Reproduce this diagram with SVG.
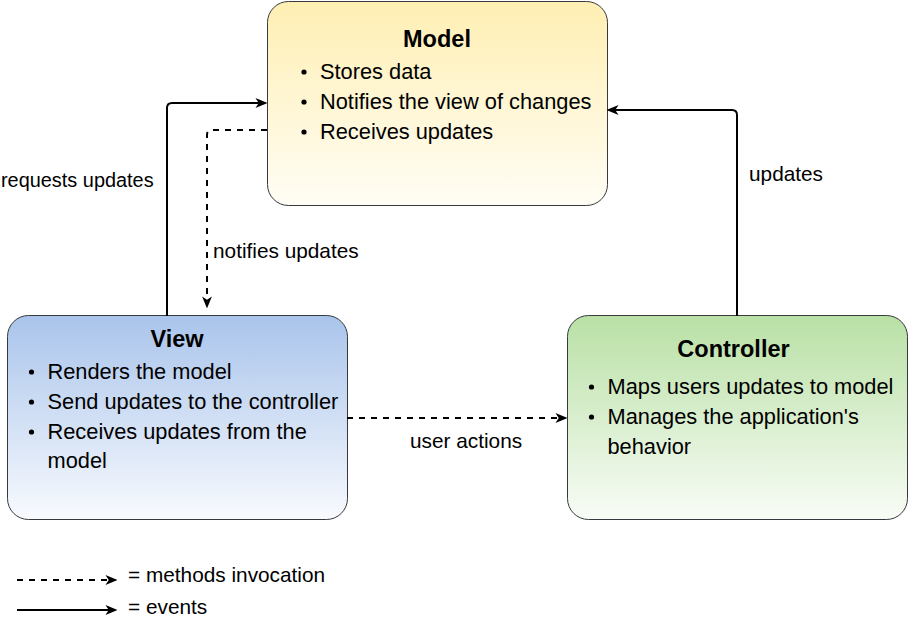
<svg xmlns="http://www.w3.org/2000/svg" width="909" height="633" viewBox="0 0 909 633">
<style>
  .box { stroke: #36393d; stroke-width: 1; }
  .title { font-family: "Liberation Sans", Arial, Helvetica, sans-serif; font-weight: bold; font-size: 23.5px; fill: #000; text-anchor: middle; }
  .item { font-family: "Liberation Sans", Arial, Helvetica, sans-serif; font-size: 21.8px; fill: #000; }
  .lbl { font-family: "Liberation Sans", Arial, Helvetica, sans-serif; font-size: 20.8px; fill: #000; }
  .dot { fill: #000; }
  .edge { fill: none; stroke: #000; stroke-width: 2; }
  .dash { stroke-dasharray: 6 6; }
</style>
<defs>
  <linearGradient id="gModel" x1="0" y1="0" x2="0" y2="1">
    <stop offset="0" stop-color="#FFEFB3"/>
    <stop offset="1" stop-color="#FFFDF5"/>
  </linearGradient>
  <linearGradient id="gView" x1="0" y1="0" x2="0" y2="1">
    <stop offset="0" stop-color="#A9C4EB"/>
    <stop offset="1" stop-color="#F8FAFE"/>
  </linearGradient>
  <linearGradient id="gCtrl" x1="0" y1="0" x2="0" y2="1">
    <stop offset="0" stop-color="#B9E0A5"/>
    <stop offset="1" stop-color="#F8FCF6"/>
  </linearGradient>
  <marker id="arr" markerUnits="userSpaceOnUse" markerWidth="12" markerHeight="10" viewBox="0 0 11 9" refX="6" refY="4.5" orient="auto">
    <path d="M0,0 L11,4.5 L0,9 L3,4.5 Z" fill="#000"/>
  </marker>
</defs>

<g id="model">
  <rect class="box" x="267.5" y="1.5" width="340" height="204" rx="21" ry="21" fill="url(#gModel)"/>
  <text class="title" x="437" y="47">Model</text>
  <circle class="dot" cx="304" cy="72" r="2.6"/>
  <text class="item" x="320" y="79">Stores data</text>
  <circle class="dot" cx="304" cy="102" r="2.6"/>
  <text class="item" x="320" y="109">Notifies the view of changes</text>
  <circle class="dot" cx="304" cy="132" r="2.6"/>
  <text class="item" x="320" y="139">Receives updates</text>
</g>

<g id="view">
  <rect class="box" x="7.5" y="315.5" width="340" height="204" rx="21" ry="21" fill="url(#gView)"/>
  <text class="title" x="177" y="347">View</text>
  <circle class="dot" cx="31.5" cy="372" r="2.6"/>
  <text class="item" x="47.5" y="379">Renders the model</text>
  <circle class="dot" cx="31.5" cy="402" r="2.6"/>
  <text class="item" x="47.5" y="409">Send updates to the controller</text>
  <circle class="dot" cx="31.5" cy="432" r="2.6"/>
  <text class="item" x="47.5" y="439">Receives updates from the</text>
  <text class="item" x="47.5" y="468">model</text>
</g>

<g id="controller">
  <rect class="box" x="567.5" y="315.5" width="340" height="204" rx="21" ry="21" fill="url(#gCtrl)"/>
  <text class="title" x="733.5" y="357">Controller</text>
  <circle class="dot" cx="591.5" cy="387" r="2.6"/>
  <text class="item" x="607.5" y="394">Maps users updates to model</text>
  <circle class="dot" cx="591.5" cy="417" r="2.6"/>
  <text class="item" x="607.5" y="424">Manages the application's</text>
  <text class="item" x="607.5" y="454">behavior</text>
</g>

<g id="connectors">
  <path class="edge" d="M167,316 L167,108 Q167,103 172,103 L262,103" marker-end="url(#arr)"/>
  <path class="edge dash" d="M267,130 L212,130 Q207,130 207,135 L207,303" marker-end="url(#arr)"/>
  <path class="edge" d="M737,316 L737,115 Q737,110 732,110 L612,110" marker-end="url(#arr)"/>
  <path class="edge dash" d="M347,418 L562,418" marker-end="url(#arr)"/>
  <path class="edge dash" d="M17,580 L112,580" marker-end="url(#arr)"/>
  <path class="edge" d="M17,610 L112,610" marker-end="url(#arr)"/>
</g>

<g id="labels">
  <text class="lbl" x="1" y="187" style="font-size:19.9px">requests updates</text>
  <text class="lbl" x="213" y="258">notifies updates</text>
  <text class="lbl" x="749" y="181">updates</text>
  <text class="lbl" x="410" y="448">user actions</text>
  <text class="lbl" x="128" y="582">= methods invocation</text>
  <text class="lbl" x="128" y="614">= events</text>
</g>
</svg>
